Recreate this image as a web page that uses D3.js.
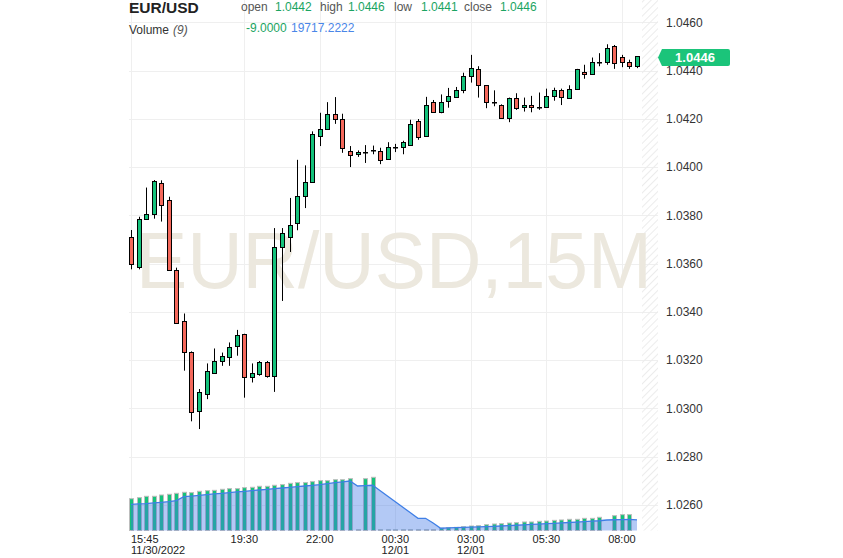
<!DOCTYPE html>
<html><head><meta charset="utf-8">
<script src="https://cdnjs.cloudflare.com/ajax/libs/d3/7.8.5/d3.min.js"></script>
<style>html,body{margin:0;padding:0;background:#fff;overflow:hidden}svg{display:block;font-family:"Liberation Sans",Arial,sans-serif}</style>
</head><body><svg id="c" width="843" height="558"></svg>
<script>
// ---- data (15-minute EUR/USD candles, 11/30/2022 15:45 -> 12/01/2022 08:30) ----
const startTime = new Date(2022, 10, 30, 15, 45);
const opens = [1.03708,1.03587,1.03786,1.03807,1.03935,1.03865,1.03575,1.03363,1.03234,1.02987,
  1.03056,1.03145,1.03194,1.03215,1.03256,1.03306,1.03128,1.03145,1.03193,1.03135,
  1.03669,1.03710,1.03768,1.03880,1.03938,1.04128,1.04157,1.04219,1.04199,1.04068,
  1.04054,1.04061,1.04069,1.04065,1.04033,1.04084,1.04083,1.04091,1.04190,1.04132,
  1.04271,1.04230,1.04271,1.04293,1.04320,1.04377,1.04407,1.04339,1.04268,1.04257,
  1.04207,1.04288,1.04248,1.04256,1.04248,1.04248,1.04295,1.04318,1.04288,1.04325,
  1.04395,1.04386,1.04434,1.04435,1.04503,1.04456,1.04435,1.0442];
const highs = [1.03739,1.03794,1.03915,1.03946,1.03945,1.03877,1.03583,1.03393,1.03236,1.03080,
  1.03186,1.03248,1.03231,1.03273,1.03325,1.03309,1.03186,1.03196,1.03196,1.03747,
  1.03747,1.03872,1.04030,1.04007,1.04148,1.04225,1.04269,1.04290,1.04221,1.04087,
  1.04069,1.04091,1.04089,1.04080,1.04103,1.04096,1.04109,1.04196,1.04199,1.04291,
  1.04278,1.04301,1.04328,1.04332,1.04391,1.04465,1.04418,1.04339,1.04318,1.04260,
  1.04288,1.04306,1.04288,1.04295,1.04309,1.04325,1.04329,1.04325,1.04339,1.04407,
  1.04424,1.04454,1.04472,1.04509,1.04506,1.04465,1.04445,1.0446];
const lows = [1.03576,1.03576,1.03783,1.03786,1.03774,1.03574,1.03354,1.03156,1.02946,1.02914,
  1.03038,1.03143,1.03176,1.03176,1.03218,1.03044,1.03107,1.03135,1.03127,1.03068,
  1.03445,1.03648,1.03738,1.03830,1.03935,1.04087,1.04157,1.04179,1.04059,1.04000,
  1.04042,1.04017,1.04053,1.04012,1.04032,1.04062,1.04053,1.04089,1.04113,1.04129,
  1.04230,1.04223,1.04246,1.04290,1.04306,1.04350,1.04288,1.04244,1.04252,1.04200,
  1.04186,1.04237,1.04230,1.04227,1.04237,1.04248,1.04275,1.04257,1.04287,1.04325,
  1.04366,1.04384,1.04418,1.04424,1.04407,1.04414,1.04407,1.0441];
const closes = [1.03597,1.03786,1.03807,1.03942,1.03844,1.03576,1.03356,1.03236,1.02987,1.03066,
  1.03153,1.03194,1.03215,1.03256,1.03302,1.03128,1.03145,1.03193,1.03135,1.03669,
  1.03727,1.03761,1.03880,1.03938,1.04137,1.04157,1.04219,1.04199,1.04079,1.04051,
  1.04062,1.04063,1.04070,1.04029,1.04083,1.04085,1.04103,1.04177,1.04124,1.04259,
  1.04230,1.04271,1.04293,1.04320,1.04377,1.04410,1.04339,1.04268,1.04267,1.04204,
  1.04288,1.04248,1.04256,1.04248,1.04249,1.04295,1.04318,1.04288,1.04325,1.04407,
  1.04386,1.04435,1.04435,1.04492,1.04431,1.04435,1.04418,1.0446];
const volumes = [58600,60500,63000,63000,65400,66700,68500,70400,69700,72200,
  73400,74000,75900,77100,77100,78900,79600,81400,81400,83300,
  84500,86900,88200,88200,90000,91800,91800,93600,93600,95500,
  1500,95500,98000,1500,1500,1500,1500,1600,1600,1600,
  1600,4100,5200,5800,7100,8300,8900,10700,12000,12600,
  13800,14400,15700,15700,16900,17500,18700,19400,20600,20600,
  22400,22400,24300,null,27300,29200,29200,null];
const volumeMA = [48300,48900,49500,50700,51900,53200,55000,62300,63500,64800,
  66000,67300,68500,69700,71000,72200,73400,74600,75900,77100,
  78300,79600,80800,82000,83300,84500,86300,88200,89400,91200,
  82000,82600,83300,73200,63000,52900,42800,32600,22500,22500,
  13800,4100,4700,5300,5700,6100,6600,7200,7700,8300,
  9000,9700,10400,11200,11900,12600,13300,14000,14700,15600,
  16400,17200,18000,19300,19800,20200,20600,19717.2222];
const priceTicks = [1.0260,1.0280,1.0300,1.0320,1.0340,1.0360,1.0380,1.0400,1.0420,1.0440,1.0460];
const timeTickLabels = ["15:45","19:30","22:00","00:30","03:00","05:30","08:00"];
const dateTickLabels = ["11/30/2022","","","12/01","12/01","",""];
const timeTickOffsets = [0,15,25,35,45,55,65];
const lastPrice = 1.0446;

// ---- setup ----
const svg = d3.select("#c");
const fmtKey = d3.timeFormat("%m/%d %H:%M");
const categories = opens.map((_, i) => fmtKey(d3.timeMinute.offset(startTime, i * 15)));
const x = d3.scalePoint().domain(categories).range([131, 637]);
const y = d3.scaleLinear().domain([1.0260, 1.0460]).range([504.8, 22.3]);
const yv = d3.scaleLinear().domain([0, 98000]).range([530.5, 477.3]);
const plotL = 129, plotR = 658, plotB = 530.5;
const GREEN = "#14c27b", RED = "#f4685b";

// hatch pattern
const defs = svg.append("defs");
const pat = defs.append("pattern").attr("id","hatch").attr("patternUnits","userSpaceOnUse")
  .attr("width",5).attr("height",5).attr("patternTransform","rotate(45)");
pat.append("line").attr("x1",0).attr("y1",0).attr("x2",0).attr("y2",5).attr("stroke","#ececec").attr("stroke-width",2);

// gridlines
const grid = svg.append("g");
grid.selectAll("line.h").data(priceTicks).join("line")
  .attr("x1", plotL).attr("x2", plotR)
  .attr("y1", d => Math.round(y(d)) + 0.5).attr("y2", d => Math.round(y(d)) + 0.5)
  .attr("stroke", "#efefef");
const tickCats = timeTickOffsets.map(i => categories[i]);
grid.selectAll("line.v").data(tickCats).join("line")
  .attr("x1", d => Math.round(x(d)) + 0.5).attr("x2", d => Math.round(x(d)) + 0.5)
  .attr("y1", 0).attr("y2", plotB).attr("stroke", "#efefef");

// hatched future area
svg.append("rect").attr("x", 642).attr("y", 0).attr("width", plotR - 642).attr("height", plotB).attr("fill", "url(#hatch)");

// watermark
svg.append("text").attr("x", 394).attr("y", 288).attr("text-anchor", "middle")
  .attr("font-size", 76).attr("fill", "#ece8de")
  .attr("transform", "translate(394,288) scale(1,1.06) translate(-394,-288)")
  .attr("textLength", 516).attr("lengthAdjust", "spacingAndGlyphs")
  .text("EUR/USD,15M");

// volume bars
const vg = svg.append("g");
vg.selectAll("rect").data(volumes.map((v, i) => ({v, i})).filter(d => d.v != null)).join("rect")
  .attr("x", d => Math.round(x(categories[d.i])) - 1.5)
  .attr("width", 4)
  .attr("y", d => yv(d.v))
  .attr("height", d => plotB - yv(d.v))
  .attr("fill", GREEN).attr("stroke", "#bdbdbd").attr("stroke-width", 1);

// volume MA area + line
const maPts = volumeMA.map((v, i) => [x(categories[i]), yv(v)]);
svg.append("path").attr("d", d3.area().x(d => d[0]).y0(plotB).y1(d => d[1])(maPts))
  .attr("fill", "rgba(66,120,230,0.4)");
svg.append("path").attr("d", d3.line()(maPts)).attr("fill", "none").attr("stroke", "#3f7fe6").attr("stroke-width", 1.3);

// candles
const cg = svg.append("g");
const cand = cg.selectAll("g").data(opens.map((o, i) => ({o, h: highs[i], l: lows[i], c: closes[i], i}))).join("g");
cand.append("line")
  .attr("x1", d => Math.round(x(categories[d.i])) + 0.5).attr("x2", d => Math.round(x(categories[d.i])) + 0.5)
  .attr("y1", d => y(d.h)).attr("y2", d => y(d.l)).attr("stroke", "#000").attr("stroke-width", 1);
cand.append("rect")
  .attr("x", d => Math.round(x(categories[d.i])) - 1.5)
  .attr("width", 4)
  .attr("y", d => Math.round(y(Math.max(d.o, d.c))) + 0.5)
  .attr("height", d => Math.max(0.5, Math.round(Math.abs(y(d.o) - y(d.c)))))
  .attr("fill", d => d.c >= d.o ? GREEN : RED)
  .attr("stroke", "#000").attr("stroke-width", 1);

// right axis
const yAxis = d3.axisRight(y).tickValues(priceTicks).tickFormat(d3.format(".4f")).tickSize(0).tickPadding(0);
const ya = svg.append("g").attr("transform", "translate(666,0)").call(yAxis);
ya.select(".domain").remove();
ya.selectAll("text").attr("font-size", 12).attr("fill", "#333").attr("font-family", "Liberation Sans, Arial, sans-serif");

// last price tag
const ty = y(lastPrice) + 1.5;
svg.append("path").attr("d", `M658,${ty} L662,${ty-8.5} L728,${ty-8.5} Q730,${ty-8.5} 730,${ty-6.5} L730,${ty+6.5} Q730,${ty+8.5} 728,${ty+8.5} L662,${ty+8.5} Z`)
  .attr("fill", "#1bc47a");
svg.append("text").attr("x", 695).attr("y", ty + 4.5).attr("text-anchor", "middle")
  .attr("font-size", 13).attr("font-weight", "bold").attr("fill", "#fff").text(d3.format(".4f")(lastPrice));

// bottom axis labels
const xa = svg.append("g").attr("font-size", 11).attr("fill", "#222");
timeTickLabels.forEach((t, k) => {
  const cx = x(tickCats[k]);
  const anchor = k === 0 ? "start" : "middle";
  xa.append("text").attr("x", cx).attr("y", 542.5).attr("text-anchor", anchor).text(t);
  if (dateTickLabels[k]) xa.append("text").attr("x", cx).attr("y", 554).attr("text-anchor", anchor).text(dateTickLabels[k]);
});

// header
const hd = svg.append("g").attr("font-size", 12);
hd.append("text").attr("x", 129).attr("y", 12.5).attr("font-size", 15.5).attr("font-weight", "bold").attr("fill", "#222").text("EUR/USD");
const lastI = opens.length - 1;
const f4 = d3.format(".4f");
const row1 = [["open", 241, "#555"], [f4(opens[lastI]), 275, "#1ba462"], ["high", 320, "#555"], [f4(highs[lastI]), 348, "#1ba462"],
  ["low", 394, "#555"], [f4(lows[lastI]), 421, "#1ba462"], ["close", 464, "#555"], [f4(closes[lastI]), 500, "#1ba462"]];
row1.forEach(([t, px, col]) => hd.append("text").attr("x", px).attr("y", 11).attr("fill", col).text(t));
hd.append("text").attr("x", 129).attr("y", 34).attr("fill", "#333").text("Volume ");
hd.append("text").attr("x", 173).attr("y", 34).attr("fill", "#555").attr("font-style", "italic").text("(9)");
hd.append("text").attr("x", 246).attr("y", 32).attr("fill", "#1ba462").text("-9.0000");
hd.append("text").attr("x", 291).attr("y", 32).attr("fill", "#4a86e8").text(d3.format(".4f")(volumeMA[lastI]));
</script></body></html>
